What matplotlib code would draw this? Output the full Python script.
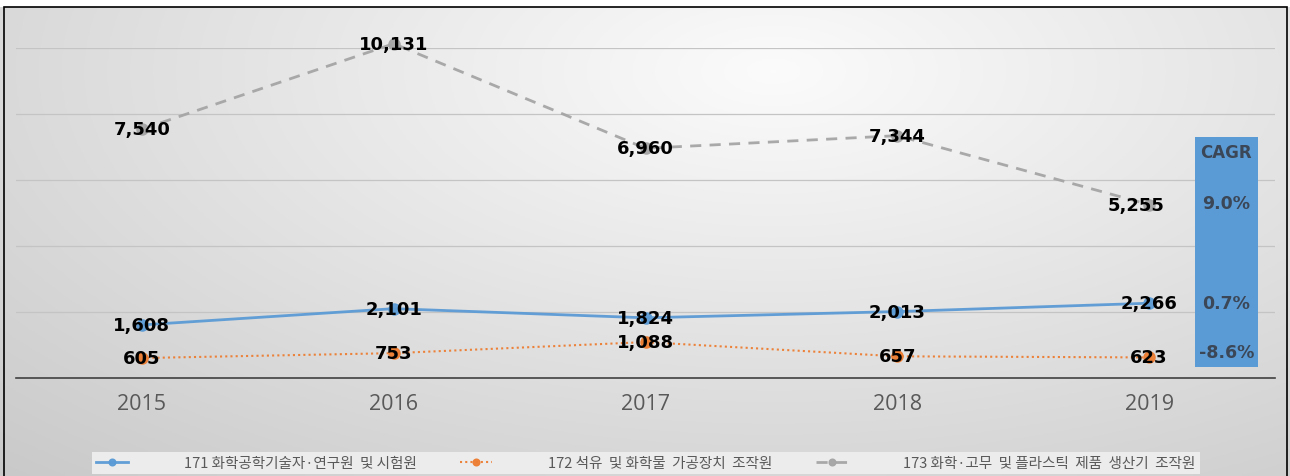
import numpy as np
import matplotlib.pyplot as plt
from matplotlib.patches import Rectangle

plt.rcParams['font.family'] = ['Noto Sans CJK KR', 'DejaVu Sans']

years = ['2015', '2016', '2017', '2018', '2019']
s171 = [1608, 2101, 1824, 2013, 2266]
s172 = [605, 753, 1088, 657, 623]
s173 = [7540, 10131, 6960, 7344, 5255]
names = ['171 화학공학기술자·연구원  및 시험원',
         '172 석유  및 화학물  가공장치  조작원',
         '173 화학·고무  및 플라스틱  제품  생산기  조작원']
cagr = ['9.0%', '0.7%', '-8.6%']

W, H = 1290, 477
fig = plt.figure(figsize=(W / 100, H / 100), dpi=100)

# gradient background
bg = fig.add_axes([0, 0, 1, 1], zorder=-10)
yy, xx = np.mgrid[0:1:200j, 0:1:400j]
d = np.sqrt(((xx - 0.6) * 1.3) ** 2 + ((yy - 0.15) * 1.0) ** 2)
shade = 0.985 - 0.17 * np.clip(d, 0, 1.2)
bg.imshow(np.dstack([shade] * 3), extent=[0, 1, 0, 1], aspect='auto', origin='upper')
bg.add_patch(Rectangle((0, 1 - 8 / H), 1, 8 / H, facecolor='white', edgecolor='none'))
bg.add_patch(Rectangle((4 / W, -0.01), 1283 / W, 1 - 8 / H + 0.01, facecolor='none',
                       edgecolor='black', linewidth=1.2))
bg.set_xlim(0, 1)
bg.set_ylim(0, 1)
bg.axis('off')

ax = fig.add_axes([16 / W, 1 - 379 / H, (1275 - 16) / W, (379 - 49) / H])
ax.patch.set_alpha(0)
x = np.arange(len(years))

l1, = ax.plot(x, s171, color='#5B9BD5', lw=2, marker='o', ms=8, alpha=0.95, clip_on=False, zorder=3)
l2, = ax.plot(x, s172, color='#ED7D31', lw=1.5, ls=(0, (1, 1.5)), marker='o', ms=8, alpha=0.95,
              clip_on=False, zorder=3)
l3, = ax.plot(x, s173, color='#A5A5A5', lw=2, ls=(0, (4, 3)), marker='o', ms=8, alpha=0.95,
              clip_on=False, zorder=3)

for series in (s171, s172, s173):
    for xi, v in zip(x, series):
        dx = -0.05 if (series is s173 and xi == 4) else 0
        ax.text(xi + dx, v, f'{v:,}', ha='center', va='center', fontsize=13, fontweight='bold',
                family='DejaVu Sans', color='black', zorder=5)

ax.set_xlim(-0.5, 4.5)
ax.set_ylim(0, 10000)
ax.set_yticks(range(2000, 10001, 2000))
ax.yaxis.grid(True, color='#c4c4c4', lw=0.9)
ax.tick_params(axis='y', left=False, labelleft=False)
ax.set_xticks(x)
ax.set_xticklabels(years, fontsize=15.5, color='#595959', family='Open Sans')
ax.tick_params(axis='x', length=0, pad=11)
for sp in ['top', 'right', 'left']:
    ax.spines[sp].set_visible(False)
ax.spines['bottom'].set_color('#404040')
ax.spines['bottom'].set_linewidth(1.2)

# CAGR box
ax.add_patch(Rectangle((4.182, 330), 0.25, 6970, facecolor='#5B9BD5', edgecolor='none', zorder=4))
ax.text(4.307, 6850, 'CAGR', ha='center', va='center', fontsize=12, fontweight='bold',
        family='DejaVu Sans', color='#3B4656', zorder=5)
for txt, yv in zip(cagr, [5300, 2270, 790]):
    ax.text(4.307, yv, txt, ha='center', va='center', fontsize=12.5, fontweight='bold',
            family='DejaVu Sans', color='#3B4656', zorder=5)

# legend
fig.legend([l1, l2, l3], names, loc='center', bbox_to_anchor=(646 / W, 1 - 464 / H), ncol=3,
           fontsize=10.5, frameon=True, facecolor='#ececec', edgecolor='none', framealpha=1,
           fancybox=False, handlelength=2.2, handletextpad=3.8, columnspacing=3.0,
           borderpad=0.3, borderaxespad=0, markerscale=0.6, labelcolor='#595959')

fig.savefig('out.png', dpi=100)
